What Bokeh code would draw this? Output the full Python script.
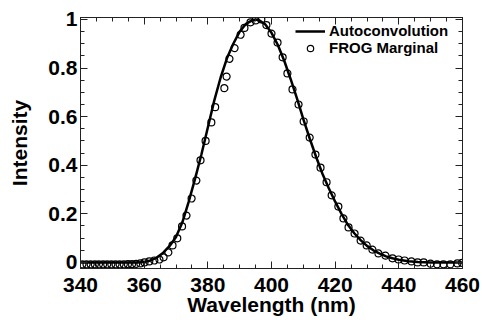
from bokeh.plotting import figure
from bokeh.models import (LinearAxis, SingleIntervalTicker, Range1d, Legend,
                          CustomJSTickFormatter)
from bokeh.embed import file_html
from bokeh.resources import INLINE

# --- data -----------------------------------------------------------------
line_wavelength = [340, 345, 350, 355, 358, 360, 362, 364, 366, 368, 370, 372,
                   374, 376, 378, 380, 382, 384, 386, 388, 390, 392, 394, 395,
                   396, 398, 400, 402, 404, 406, 408, 410, 412, 414, 416, 418,
                   420, 422, 424, 426, 428, 430, 432, 434, 436, 438, 440, 443,
                   446, 450, 455, 460]
line_intensity = [0.0, 0.0, 0.0, 0.0, 0.0, 0.002, 0.008, 0.02, 0.04, 0.068,
                  0.105, 0.165, 0.25, 0.345, 0.445, 0.555, 0.665, 0.76, 0.84,
                  0.9, 0.95, 0.982, 0.997, 1.0, 0.997, 0.98, 0.945, 0.895,
                  0.83, 0.755, 0.675, 0.59, 0.51, 0.435, 0.365, 0.305, 0.25,
                  0.2, 0.155, 0.12, 0.092, 0.068, 0.05, 0.036, 0.025, 0.017,
                  0.011, 0.005, 0.002, 0.0, 0.0, 0.0]

frog_wavelength = [340.6, 341.9, 343.2, 344.5, 345.8, 347.1, 348.4, 349.7,
                   351.0, 352.3, 353.6, 354.9, 356.2, 357.5, 358.8, 360.1,
                   361.6, 363.2, 364.8, 366.1, 367.6, 368.9, 370.4, 371.9,
                   373.3, 374.9, 376.4, 377.7, 379.3, 381.1, 382.3, 385.2,
                   385.9, 386.8, 388.4, 390.3, 391.5, 393.4, 395.0, 396.8,
                   398.4, 400.0, 401.9, 403.5, 405.0, 406.6, 408.5, 410.1,
                   412.0, 413.8, 415.4, 417.3, 418.9, 421.0, 422.6, 424.2,
                   426.1, 428.0, 429.9, 431.7, 433.6, 435.8, 438.0, 439.9,
                   441.8, 444.0, 445.9, 447.8, 450.0, 452.0, 454.0, 456.2,
                   458.4, 459.9]
frog_intensity = [-0.008, -0.008, -0.008, -0.008, -0.008, -0.008, -0.008,
                  -0.008, -0.008, -0.008, -0.008, -0.007, -0.007, -0.006,
                  -0.004, 0.0, 0.004, 0.008, 0.012, 0.021, 0.041, 0.07, 0.099,
                  0.148, 0.193, 0.263, 0.337, 0.42, 0.5, 0.576, 0.639, 0.717,
                  0.765, 0.838, 0.882, 0.937, 0.965, 0.988, 0.996, 1.0, 0.977,
                  0.942, 0.905, 0.844, 0.778, 0.712, 0.650, 0.580, 0.514,
                  0.444, 0.39, 0.33, 0.276, 0.23, 0.181, 0.144, 0.119, 0.09,
                  0.07, 0.053, 0.037, 0.028, 0.017, 0.012, 0.008, 0.004, 0.0,
                  0.0, -0.005, -0.008, -0.008, -0.008, -0.004, -0.002]

x_label = "Wavelength (nm)"
y_label = "Intensity"
legend_labels = ["Autoconvolution", "FROG Marginal"]

FONT = "Liberation Sans"

p = figure(width=482, height=322, output_backend="svg", toolbar_location=None,
           x_range=Range1d(340, 460), y_range=Range1d(-0.025, 1.008),
           x_axis_location=None, y_axis_location=None,
           min_border_left=80, min_border_right=20, min_border_top=17,
           min_border_bottom=54)
p.background_fill_color = "white"
p.border_fill_color = "white"
p.outline_line_color = "#222222"
p.outline_line_width = 1
p.xgrid.visible = False
p.ygrid.visible = False

xt = SingleIntervalTicker(interval=20, num_minor_ticks=4)
yt = SingleIntervalTicker(interval=0.2, num_minor_ticks=4)
yfmt = CustomJSTickFormatter(code="return String(Math.round(tick*10)/10);")
blank = CustomJSTickFormatter(code="return '';")


def style(ax):
    ax.axis_line_color = "#222222"
    ax.major_tick_in = 7
    ax.major_tick_out = 0
    ax.minor_tick_in = 4
    ax.minor_tick_out = 0
    ax.major_tick_line_color = "#222222"
    ax.minor_tick_line_color = "#222222"
    ax.major_label_text_font = FONT
    ax.major_label_text_font_style = "bold"
    ax.major_label_text_font_size = "21px"
    ax.major_label_text_color = "black"
    ax.axis_label_text_font = FONT
    ax.axis_label_text_font_style = "bold"
    ax.axis_label_text_font_size = "21px"
    ax.axis_label_text_color = "black"


xb = LinearAxis(ticker=xt, axis_label=x_label)
style(xb)
xb.major_label_standoff = 9
xb.axis_label_standoff = -2
p.add_layout(xb, "below")

yl = LinearAxis(ticker=yt, formatter=yfmt, axis_label=y_label)
style(yl)
yl.major_label_standoff = 3
yl.axis_label_standoff = 14
p.add_layout(yl, "left")

xa = LinearAxis(ticker=xt, formatter=blank)
style(xa)
xa.major_label_standoff = 0
p.add_layout(xa, "above")

yr = LinearAxis(ticker=yt, formatter=blank)
style(yr)
yr.major_label_standoff = 0
p.add_layout(yr, "right")

line_r = p.line(line_wavelength, line_intensity, line_color="black",
                line_width=2.5)
circ_r = p.scatter(frog_wavelength, frog_intensity, marker="circle", size=7,
                   line_color="black", line_width=1.2, fill_alpha=0)

legend = Legend(items=[(legend_labels[0], [line_r]),
                       (legend_labels[1], [circ_r])],
                location=(215, 212))
legend.label_text_font = FONT
legend.label_text_font_style = "bold"
legend.label_text_font_size = "15px"
legend.label_text_color = "black"
legend.glyph_width = 30
legend.glyph_height = 16
legend.label_height = 16
legend.label_standoff = 4
legend.spacing = 0
legend.padding = 0
legend.margin = 0
legend.border_line_alpha = 0
legend.background_fill_alpha = 0
p.add_layout(legend)

open("out.html", "w").write(file_html(p, INLINE))
